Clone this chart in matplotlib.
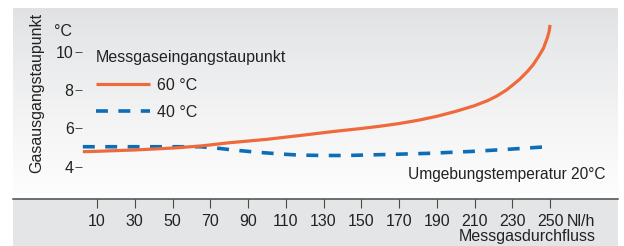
import numpy as np
import matplotlib.pyplot as plt
from matplotlib.lines import Line2D
from matplotlib.patches import Rectangle

plt.rcParams['font.family'] = ['Liberation Sans', 'DejaVu Sans']

# Messgasdurchfluss (Nl/h) und Gasausgangstaupunkt (°C)
flow_60 = [2.5, 10, 30, 50, 65, 80, 100, 120, 135, 150, 160, 170, 180, 190, 200, 210, 217, 222,
           227, 231, 234, 238, 241, 244, 246.5, 248.5, 249.5, 250]
temp_60 = [4.78, 4.8, 4.87, 4.97, 5.08, 5.25, 5.43, 5.66, 5.84, 6.0, 6.12, 6.26, 6.43, 6.64, 6.9, 7.2, 7.47, 7.72,
           8.03, 8.35, 8.6, 9.0, 9.35, 9.8, 10.22, 10.75, 11.1, 11.45]
flow_40 = [2.5, 50, 65, 75, 82, 95, 107, 117, 130, 142, 163, 185, 210, 230, 250]
temp_40 = [5.04, 5.04, 5.04, 4.95, 4.87, 4.75, 4.66, 4.6, 4.58, 4.58, 4.63, 4.69, 4.8, 4.92, 5.05]
x_ticks = list(range(10, 251, 20))
y_ticks = [4, 6, 8, 10]

W, H = 624, 246
def fx(x):
    return x / W
def fy(y):
    return 1 - y / H

txt = '#222222'
orange = '#ef6a3b'
blue = '#0d6db6'
fs = 11.5

fig = plt.figure(figsize=(W / 100, H / 100), dpi=100)

# Hintergrund: Verlauf oben grau -> unten weiss, unten grauer Streifen
fig.patches.append(Rectangle((fx(13), 0), fx(618 - 13), 47 / H, transform=fig.transFigure,
                             facecolor='#e4e5e7', edgecolor='none', zorder=-5))
bg = fig.add_axes([fx(13), fy(199), fx(618 - 13), 191 / H], zorder=-3)
grad = np.linspace(0, 1, 256)
top = np.array([0.878, 0.882, 0.890])
bot = np.array([0.995, 0.995, 0.995])
img = top[None, :] + (bot - top)[None, :] * (grad[:, None] ** 0.8)
bg.imshow(img.reshape(256, 1, 3), aspect='auto', extent=[0, 1, 0, 1])
bg.axis('off')

ax = fig.add_axes([fx(82), fy(199), fx(618 - 82), 191 / H], zorder=1)
ax.patch.set_alpha(0)
ax.set_xlim(2.05, 286.0)
ax.set_ylim(2.29, 12.34)

ax.plot(flow_60, temp_60, color=orange, lw=2.3, solid_capstyle='butt', solid_joinstyle='round',
        label='60 °C', zorder=3)
ax.plot(flow_40, temp_40, color=blue, lw=2.6, dashes=(3.3, 2.9), dash_capstyle='butt',
        label='40 °C', zorder=2)

for s in ['left', 'right', 'top', 'bottom']:
    ax.spines[s].set_visible(False)
fig.add_artist(Line2D([fx(13), fx(618)], [fy(199), fy(199)], color='#4a4a4a', lw=1.1, zorder=2))

ax.set_xticks(x_ticks)
ax.set_xticklabels([str(v) for v in x_ticks])
ax.set_yticks(y_ticks)
ax.set_yticklabels([str(v) for v in y_ticks])
ax.tick_params(axis='x', direction='out', length=6.5, width=0.8, color='#4a4a4a', pad=4,
               labelsize=fs, labelcolor=txt)
ax.tick_params(axis='y', direction='out', length=5, width=0.7, color='#4a4a4a', pad=1,
               labelsize=fs, labelcolor=txt)

fig.text(fx(567), fy(221), 'Nl/h', fontsize=fs, color=txt, ha='left', va='center')
fig.text(fx(596), fy(237), 'Messgasdurchfluss', fontsize=fs, color=txt, ha='right', va='center')
fig.text(fx(37), fy(93), 'Gasausgangstaupunkt', fontsize=fs, color=txt, rotation=90,
         ha='center', va='center')
fig.text(fx(54), fy(32), '°C', fontsize=fs, color=txt, ha='left', va='center')
fig.text(fx(605), fy(174), 'Umgebungstemperatur 20°C', fontsize=11.2, color=txt, ha='right', va='center')

leg = ax.legend(title='Messgaseingangstaupunkt', loc='upper left',
                bbox_to_anchor=(fx(96), fy(50)), bbox_transform=fig.transFigure,
                frameon=False, fontsize=fs, title_fontsize=fs, handlelength=3.4,
                handletextpad=0.45, labelspacing=0.78, borderpad=0, borderaxespad=0,
                alignment='left')
leg._legend_box.sep = 9
for t in leg.get_texts():
    t.set_color(txt)
leg.get_title().set_color(txt)

fig.savefig('out.png', dpi=100)
